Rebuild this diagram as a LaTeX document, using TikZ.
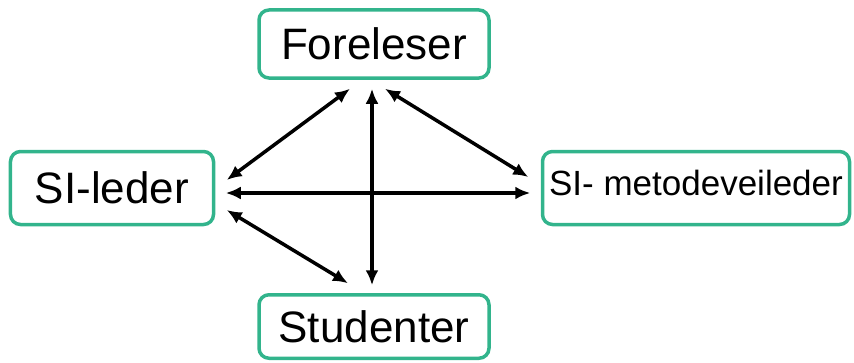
\documentclass[tikz,border=0pt]{standalone}
\usepackage{fontspec}
\setmainfont{Liberation Sans}
\usepackage{tikz}
\usetikzlibrary{arrows.meta}

\definecolor{boxgreen}{RGB}{50,180,140}

\begin{document}
\begin{tikzpicture}[x=1bp, y=1bp,
    rolebox/.style={draw=boxgreen, line width=3.5bp, rounded corners=10bp,
      inner sep=0pt, font=\fontsize{44bp}{50bp}\selectfont},
    link/.style={line width=3.5bp, {Latex[length=15bp,width=13bp]}-{Latex[length=15bp,width=13bp]}}]
      % Fix the page size
      \useasboundingbox (0,0) rectangle (854,362);

      % Draw the four boxes
      \node[rolebox, minimum width=230bp, minimum height=68bp] (for) at (374,318) {Foreleser};
      \node[rolebox, minimum width=203bp, minimum height=73bp] (sil) at (112,174) {SI-leder};
      \node[rolebox, minimum width=307bp, minimum height=73bp, text depth=10bp,
        font=\fontsize{35bp}{40bp}\selectfont] (met) at (696,174) {SI- metodeveileder};
      \node[rolebox, minimum width=230bp, minimum height=63.5bp] (stu) at (374,35.5) {Studenter};

      % Arrows from Foreleser
      \draw[link] ([xshift=-24bp,yshift=-9bp]for.south) -- ([xshift=11.5bp,yshift=8bp]sil.east);
      \draw[link] ([xshift=-2bp,yshift=-9bp]for.south) -- ([xshift=-2bp,yshift=7.75bp]stu.north);
      \draw[link] ([xshift=11bp,yshift=-9bp]for.south) -- ([xshift=-12.5bp,yshift=11bp]met.west);

      % Arrows from SI-leder
      \draw[link] ([xshift=10.5bp,yshift=-5bp]sil.east) -- ([xshift=-10.5bp,yshift=-5bp]met.west);
      \draw[link] ([xshift=11.5bp,yshift=-22bp]sil.east) -- ([xshift=-26bp,yshift=9.75bp]stu.north);
    \end{tikzpicture}
\end{document}
